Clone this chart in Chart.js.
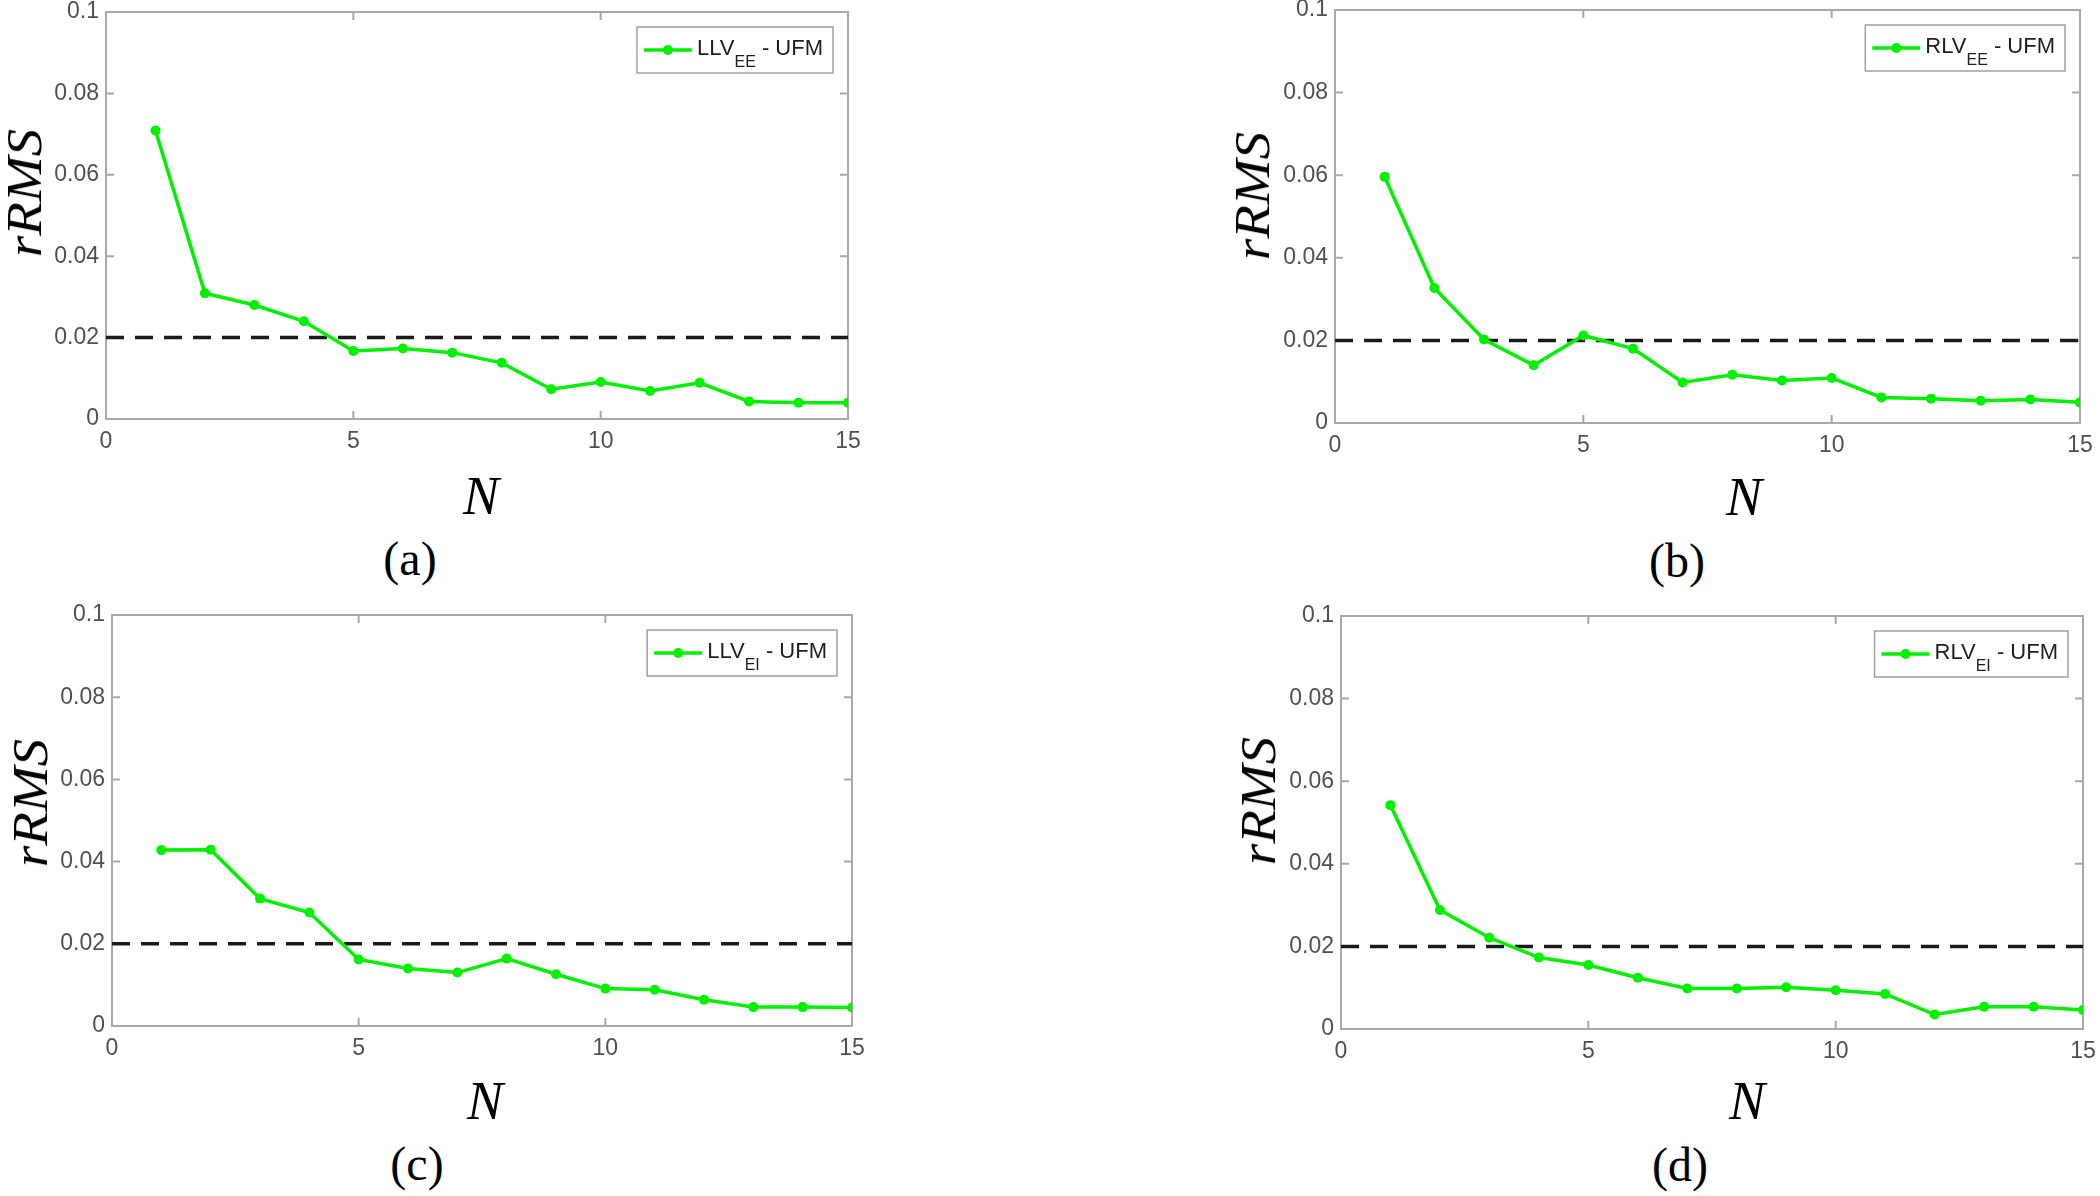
<!DOCTYPE html>
<html>
<head>
<meta charset="utf-8">
<script src="https://cdn.jsdelivr.net/npm/chart.js@4.4.1/dist/chart.umd.min.js"></script>
<style>
  body { margin: 0; background: #fff; }
  #page { position: relative; width: 2100px; height: 1196px; overflow: hidden; background: #fff; }
  canvas { position: absolute; }
  .lbl { position: absolute; font-family: 'Liberation Serif', 'Times New Roman', serif; color: #000; line-height: 1; white-space: nowrap; }
</style>
</head>
<body>
<div id="page"></div>
<script>
//Data
const nValues = [1, 2, 3, 4, 5, 6, 7, 8, 9, 10, 11, 12, 13, 14, 15];
const llvEE = [0.0709, 0.0309, 0.0280, 0.0240, 0.0167, 0.0173, 0.0163, 0.0138, 0.0073, 0.0091, 0.0069, 0.0089, 0.0043, 0.0040, 0.0040];
const rlvEE = [0.0596, 0.0327, 0.0202, 0.0140, 0.0212, 0.0180, 0.0098, 0.0117, 0.0103, 0.0109, 0.0062, 0.0059, 0.0054, 0.0057, 0.0050];
const llvEI = [0.0428, 0.0429, 0.0310, 0.0276, 0.0162, 0.0140, 0.0130, 0.0164, 0.0126, 0.0091, 0.0088, 0.0064, 0.0046, 0.0046, 0.0045];
const rlvEI = [0.0542, 0.0288, 0.0221, 0.0173, 0.0155, 0.0124, 0.0098, 0.0098, 0.0101, 0.0094, 0.0085, 0.0035, 0.0054, 0.0054, 0.0046];
const threshold = 0.02;

//Ticks
const xTickValues = [0, 5, 10, 15];
const xTickLabels = ["0", "5", "10", "15"];
const yTickValues = [0, 0.02, 0.04, 0.06, 0.08, 0.1];
const yTickLabels = ["0", "0.02", "0.04", "0.06", "0.08", "0.1"];

//Legend and captions
const legendNames = ["LLV", "RLV", "LLV", "RLV"];
const legendSubs = ["EE", "EE", "EI", "EI"];
const legendRest = " - UFM";
const captions = ["(a)", "(b)", "(c)", "(d)"];
const series = [llvEE, rlvEE, llvEI, rlvEI];

//Panel layout: plot area edges and label centres, in page pixels
const panels = [
    { L: 106, R: 848, T: 12, B: 419, yLab: [24, 193], nLab: [481, 496], cap: [410, 563] },
    { L: 1335, R: 2080, T: 10, B: 423, yLab: [1252, 196], nLab: [1744, 497], cap: [1677, 565] },
    { L: 112, R: 852, T: 615, B: 1026, yLab: [30, 803], nLab: [485, 1101], cap: [417, 1168] },
    { L: 1341, R: 2083, T: 616, B: 1029, yLab: [1258, 801], nLab: [1747, 1101], cap: [1680, 1169] }
];

const GREEN = "#00f000";
const AXIS = "#a8a8a8";
const TICKTEXT = "#505050";

//Box + inward tick marks, MATLAB style
const framePlugin = {
    id: "frame",
    beforeDatasetsDraw(chart) {
        const { ctx, chartArea: a, scales } = chart;
        ctx.save();
        ctx.strokeStyle = AXIS;
        ctx.lineWidth = 2;
        ctx.strokeRect(a.left, a.top, a.right - a.left, a.bottom - a.top);
        ctx.beginPath();
        xTickValues.forEach((v) => {
            const px = scales.x.getPixelForValue(v);
            ctx.moveTo(px, a.bottom); ctx.lineTo(px, a.bottom - 8);
            ctx.moveTo(px, a.top); ctx.lineTo(px, a.top + 8);
        });
        yTickValues.forEach((v) => {
            const py = scales.y.getPixelForValue(v);
            ctx.moveTo(a.left, py); ctx.lineTo(a.left + 8, py);
            ctx.moveTo(a.right, py); ctx.lineTo(a.right - 8, py);
        });
        ctx.stroke();
        ctx.restore();
    }
};

//Legend with subscript
const legendPlugin = {
    id: "subLegend",
    afterDatasetsDraw(chart, args, opts) {
        const { ctx, chartArea: a } = chart;
        const mainFont = "22px 'Liberation Sans', Arial, sans-serif";
        const subFont = "16px 'Liberation Sans', Arial, sans-serif";
        ctx.save();
        ctx.font = mainFont;
        const w1 = ctx.measureText(opts.name).width;
        const w3 = ctx.measureText(legendRest).width;
        ctx.font = subFont;
        const w2 = ctx.measureText(opts.sub).width;
        const boxW = 60 + w1 + w2 + w3 + 10;
        const boxH = 46;
        const boxR = a.right - 15;
        const boxL = boxR - boxW;
        const boxT = a.top + 15;
        ctx.fillStyle = "#fff";
        ctx.fillRect(boxL, boxT, boxW, boxH);
        ctx.strokeStyle = "#a0a0a0";
        ctx.lineWidth = 1.5;
        ctx.strokeRect(boxL, boxT, boxW, boxH);
        ctx.strokeStyle = GREEN;
        ctx.lineWidth = 3.5;
        ctx.beginPath();
        ctx.moveTo(boxL + 7, boxT + 23);
        ctx.lineTo(boxL + 55, boxT + 23);
        ctx.stroke();
        ctx.fillStyle = GREEN;
        ctx.beginPath();
        ctx.arc(boxL + 31, boxT + 23, 5, 0, Math.PI * 2);
        ctx.fill();
        ctx.fillStyle = "#1e1e1e";
        ctx.textBaseline = "alphabetic";
        ctx.font = mainFont;
        ctx.fillText(opts.name, boxL + 60, boxT + 28);
        ctx.font = subFont;
        ctx.fillText(opts.sub, boxL + 60 + w1, boxT + 40);
        ctx.font = mainFont;
        ctx.fillText(legendRest, boxL + 60 + w1 + w2, boxT + 28);
        ctx.restore();
    }
};

const page = document.getElementById("page");

function addLabel(text, pos, style, transform) {
    const d = document.createElement("div");
    d.className = "lbl";
    d.textContent = text;
    d.style.left = pos[0] + "px";
    d.style.top = pos[1] + "px";
    Object.assign(d.style, style);
    d.style.transform = "translate(-50%, -50%)" + (transform || "");
    page.appendChild(d);
}

const makePanel = (p, i) => {
    const x0 = p.L - 106;
    const y0 = p.T - 12;
    const w = p.R - x0 + 22;
    const h = p.B - y0 + 41;

    const canvas = document.createElement("canvas");
    canvas.width = w;
    canvas.height = h;
    canvas.style.left = x0 + "px";
    canvas.style.top = y0 + "px";
    canvas.style.width = w + "px";
    canvas.style.height = h + "px";
    page.appendChild(canvas);

    const vals = series[i];
    const points = nValues.map((n, k) => ({ x: n, y: vals[k] }));
    const limit = [{ x: xTickValues[0], y: threshold }, { x: xTickValues[xTickValues.length - 1], y: threshold }];

    new Chart(canvas, {
        type: "line",
        data: {
            datasets: [
                {
                    label: legendNames[i] + legendSubs[i] + legendRest,
                    data: points,
                    borderColor: GREEN,
                    backgroundColor: GREEN,
                    borderWidth: 3.5,
                    pointRadius: 5,
                    pointBorderWidth: 0,
                    pointBackgroundColor: GREEN,
                    tension: 0
                },
                {
                    label: "limit",
                    data: limit,
                    borderColor: "#1a1a1a",
                    borderWidth: 3.5,
                    borderDash: [18, 11],
                    pointRadius: 0,
                    tension: 0
                }
            ]
        },
        options: {
            responsive: false,
            animation: false,
            devicePixelRatio: 1,
            layout: { padding: { top: 12, right: 22, left: 0, bottom: 0 } },
            plugins: {
                legend: { display: false },
                tooltip: { enabled: false },
                subLegend: { name: legendNames[i], sub: legendSubs[i] }
            },
            scales: {
                x: {
                    type: "linear",
                    min: 0,
                    max: 15,
                    grid: { display: false, drawTicks: false },
                    border: { display: false },
                    afterBuildTicks: (s) => { s.ticks = xTickValues.map((v) => ({ value: v })); },
                    afterFit: (s) => {
                        s.height = 41;
                        s.paddingLeft = 0; s.paddingRight = 0; s.paddingTop = 0; s.paddingBottom = 0;
                    },
                    ticks: {
                        padding: 9,
                        color: TICKTEXT,
                        font: { family: "'Liberation Sans', Arial, sans-serif", size: 23 },
                        maxRotation: 0,
                        callback: (v, idx) => xTickLabels[idx]
                    }
                },
                y: {
                    type: "linear",
                    min: 0,
                    max: 0.1,
                    grid: { display: false, drawTicks: false },
                    border: { display: false },
                    afterBuildTicks: (s) => { s.ticks = yTickValues.map((v) => ({ value: v })); },
                    afterFit: (s) => {
                        s.width = 106;
                        s.paddingLeft = 0; s.paddingRight = 0; s.paddingTop = 0; s.paddingBottom = 0;
                    },
                    ticks: {
                        padding: 7,
                        color: TICKTEXT,
                        font: { family: "'Liberation Sans', Arial, sans-serif", size: 23 },
                        callback: (v, idx) => yTickLabels[idx]
                    }
                }
            }
        },
        plugins: [framePlugin, legendPlugin]
    });

    addLabel("rRMS", p.yLab, { fontStyle: "italic", fontSize: "50px" }, " rotate(-90deg) scaleX(1.1)");
    addLabel("N", p.nLab, { fontStyle: "italic", fontSize: "54px" });
    addLabel(captions[i], [p.cap[0], p.cap[1] - 4], { fontSize: "48px" });
};

panels.forEach(makePanel);
</script>
</body>
</html>
